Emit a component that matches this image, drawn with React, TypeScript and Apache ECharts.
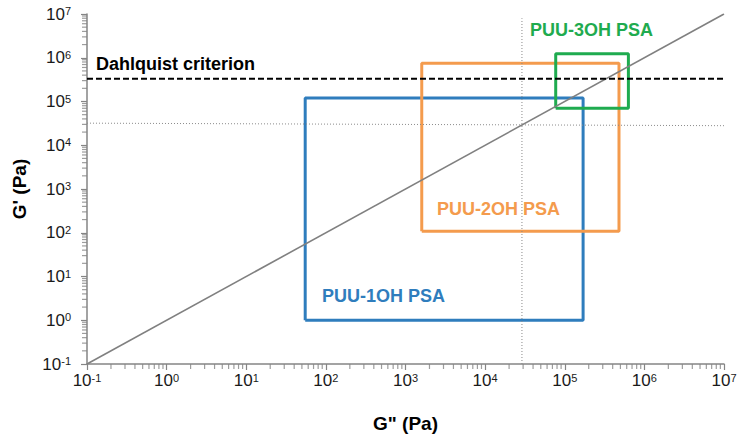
import React, { useEffect, useRef } from "react";
import * as echarts from "echarts";

// ---- data ----
const tickExponents = [-1, 0, 1, 2, 3, 4, 5, 6, 7];
const minorMultipliers = [2, 3, 4, 5, 6, 7, 8, 9];
const diagonalLine: [number, number][] = [
  [0.1, 0.1],
  [1e7, 1e7],
];
const dahlquistLine: [number, number][] = [
  [0.1, 3.3e5],
  [1e7, 3.3e5],
];
const dottedHorizontal: [number, number][] = [
  [0.1, 3.2e4],
  [1e7, 2.8e4],
];
const dottedVertical: [number, number][] = [
  [2.9e4, 0.1],
  [2.9e4, 8e6],
];
// [G'' min, G'' max, G' min, G' max]
const puu1OH = [55, 1.7e5, 1, 1.2e5];
const puu2OH = [1.6e3, 4.8e5, 108, 7.5e5];
const puu3OH = [7.7e4, 6.3e5, 7e4, 1.24e6];

const FONT = "Liberation Sans, Arial, sans-serif";
const AXIS_GRAY = "#858585";

function rectPath(r: number[]): [number, number][] {
  const [x0, x1, y0, y1] = r;
  return [
    [x0, y0],
    [x1, y0],
    [x1, y1],
    [x0, y1],
    [x0, y0],
  ];
}

const minorValues: number[] = [];
tickExponents.slice(0, -1).forEach((e) => {
  minorMultipliers.forEach((m) => minorValues.push(m * Math.pow(10, e)));
});
const axisMin = Math.pow(10, tickExponents[0]);
const axisMax = Math.pow(10, tickExponents[tickExponents.length - 1]);

const labelFormatter = (v: number) => {
  const e = Math.round(Math.log10(v));
  return `{base|10}{sup|${e}}`;
};

const makeRich = () => ({
  base: { fontSize: 17, fontFamily: FONT, color: "#1a1a1a" },
  sup: {
    fontSize: 11,
    fontFamily: FONT,
    color: "#1a1a1a",
    verticalAlign: "top",
  },
});

export default function App() {
  const ref = useRef<HTMLDivElement>(null);
  useEffect(() => {
    if (!ref.current) return;
    const chart = echarts.init(ref.current, undefined, { renderer: "svg" });
    const boxSeries = (name: string, r: number[], color: string) => ({
      name,
      type: "line",
      data: rectPath(r),
      symbol: "none",
      silent: true,
      lineStyle: { color, width: 3 },
      z: 2,
    });
    const textEl = (text: string, x: number, y: number, fill: string) => ({
      type: "text",
      x,
      y,
      silent: true,
      style: {
        text,
        fontSize: 18,
        fontWeight: "bold",
        fontFamily: FONT,
        fill,
        verticalAlign: "middle",
      },
    });
    const option: any = {
      animation: false,
      backgroundColor: "#ffffff",
      grid: { left: 87, right: 16, top: 14, bottom: 80 },
      xAxis: {
        type: "log",
        logBase: 10,
        min: axisMin,
        max: axisMax,
        interval: 1,
        name: 'G" (Pa)',
        nameLocation: "middle",
        nameGap: 50,
        nameTextStyle: {
          fontSize: 19,
          fontWeight: "bold",
          fontFamily: FONT,
          color: "#000",
        },
        axisLine: { lineStyle: { color: AXIS_GRAY, width: 1.5 } },
        axisTick: { length: 6, lineStyle: { color: AXIS_GRAY, width: 1.2 } },
        axisLabel: {
          formatter: labelFormatter,
          rich: makeRich(),
          margin: 8,
        },
        splitLine: { show: false },
      },
      yAxis: {
        type: "log",
        logBase: 10,
        min: axisMin,
        max: axisMax,
        interval: 1,
        name: "G' (Pa)",
        nameLocation: "middle",
        nameGap: 58,
        nameRotate: 90,
        nameTextStyle: {
          fontSize: 19,
          fontWeight: "bold",
          fontFamily: FONT,
          color: "#000",
        },
        axisLine: { show: true, lineStyle: { color: AXIS_GRAY, width: 1.5 } },
        axisTick: { show: true, length: 6, lineStyle: { color: AXIS_GRAY, width: 1.2 } },
        axisLabel: {
          formatter: labelFormatter,
          rich: makeRich(),
          margin: 16,
        },
        splitLine: { show: false },
      },
      series: [
        boxSeries("PUU-1OH PSA", puu1OH, "#2f7dbd"),
        boxSeries("PUU-2OH PSA", puu2OH, "#f49b4d"),
        boxSeries("PUU-3OH PSA", puu3OH, "#1fab4f"),
        {
          type: "line",
          data: dottedHorizontal,
          symbol: "none",
          silent: true,
          lineStyle: { color: "#8a8a8a", width: 1, type: [1, 2] },
          z: 3,
        },
        {
          type: "line",
          data: dottedVertical,
          symbol: "none",
          silent: true,
          lineStyle: { color: "#8a8a8a", width: 1, type: [1, 2] },
          z: 3,
        },
        {
          type: "line",
          data: diagonalLine,
          symbol: "none",
          silent: true,
          lineStyle: { color: "#808080", width: 1.6 },
          z: 4,
        },
        {
          type: "line",
          data: dahlquistLine,
          symbol: "none",
          silent: true,
          lineStyle: { color: "#000000", width: 2, type: [6, 3] },
          z: 5,
        },
        {
          type: "scatter",
          clip: false,
          silent: true,
          data: minorValues.map((v) => [v, axisMin]),
          symbol: "rect",
          symbolSize: [1.2, 5],
          symbolOffset: [0, 2.5],
          itemStyle: { color: AXIS_GRAY },
          z: 6,
        },
        {
          type: "scatter",
          clip: false,
          silent: true,
          data: minorValues.map((v) => [axisMin, v]),
          symbol: "rect",
          symbolSize: [5, 1.2],
          symbolOffset: [-2.5, 0],
          itemStyle: { color: AXIS_GRAY },
          z: 6,
        },
      ],
      graphic: [
        textEl("Dahlquist criterion", 96, 64, "#000"),
        textEl("PUU-3OH PSA", 530, 30, "#1fab4f"),
        textEl("PUU-2OH PSA", 437, 208.5, "#f49b4d"),
        textEl("PUU-1OH PSA", 322, 296, "#2f7dbd"),
      ],
    };
    chart.setOption(option);
    return () => chart.dispose();
  }, []);
  return (
    <div
      ref={ref}
      style={{ width: 740, height: 444, position: "fixed", left: 0, top: 0 }}
    />
  );
}
